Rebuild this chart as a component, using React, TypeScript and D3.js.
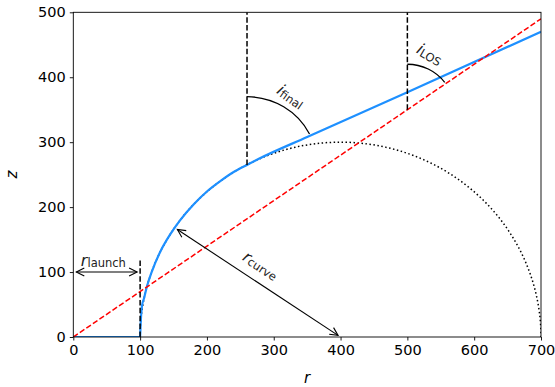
import React, { useEffect, useRef } from "react";
import * as d3 from "d3";

// axis ticks
const rTicks = [0, 100, 200, 300, 400, 500, 600, 700];
const zTicks = [0, 100, 200, 300, 400, 500];

// blue streamline: launch segment along the disc, then the curved flow
const launchSegment: [number, number][] = [[0, 0], [100, 0]];
const streamline: [number, number][] = [
  [100, 0], [101, 24], [103, 49], [106, 60], [110, 77], [118, 102], [130, 131],
  [145, 158], [160, 180], [180, 204], [200, 224], [220, 240], [240, 254],
  [260, 265], [277, 274], [350, 308], [500, 377], [700, 470],
];

// red line of sight
const losLine: [number, number][] = [[0, 0], [700, 490]];

// black dashed verticals
const launchMarker: [number, number][] = [[100, 0], [100, 120]];
const finalMarker: [number, number][] = [[260, 265], [260, 500]];
const losMarker: [number, number][] = [[500, 350], [500, 500]];

// dotted curvature circle
const curveCenter = [400, 0];
const curveRadius = 300;

// angle arcs: centre r, centre z, radius, start angle (deg from horizontal)
const finalArc = [260, 265, 105, 27];
const losArc = [500, 350, 70, 37];

// double-headed arrows
const launchArrow: [number, number][] = [[0, 100], [100, 100]];
const curveArrow: [number, number][] = [[400, 0], [152, 168]];

// labels: [r, z, rotation, main, subscript]
const labels: [number, number, number, string, string][] = [
  [45, 118, 0, "r", "launch"],
  [326, 371, 35, "i", "final"],
  [534, 436, 30, "i", "LOS"],
  [281, 111, 33, "r", "curve"],
];

const W = 555;
const H = 387;
const margin = { top: 12.3, right: 14, bottom: 50, left: 73.3 };
const FONT = "DejaVu Sans, sans-serif";

export default function App() {
  const ref = useRef<SVGSVGElement>(null);

  useEffect(() => {
    const svg = d3.select(ref.current);
    svg.selectAll("*").remove();

    const x = d3.scaleLinear().domain([0, 700]).range([margin.left, W - margin.right]);
    const y = d3.scaleLinear().domain([0, 500]).range([H - margin.bottom, margin.top]);

    svg.append("defs").append("clipPath").attr("id", "plot")
      .append("rect")
      .attr("x", x(0)).attr("y", y(500))
      .attr("width", x(700) - x(0)).attr("height", y(0) - y(500));

    const g = svg.append("g").attr("clip-path", "url(#plot)");
    const line = d3.line<[number, number]>().x(d => x(d[0])).y(d => y(d[1]));
    const smooth = d3.line<[number, number]>().x(d => x(d[0])).y(d => y(d[1]))
      .curve(d3.curveMonotoneX);

    // dotted circle
    g.append("ellipse")
      .attr("cx", x(curveCenter[0])).attr("cy", y(curveCenter[1]))
      .attr("rx", x(curveRadius) - x(0)).attr("ry", y(0) - y(curveRadius))
      .attr("fill", "none").attr("stroke", "black")
      .attr("stroke-width", 1.5).attr("stroke-dasharray", "1.5,2.5");

    // streamline
    g.append("path").attr("d", line(launchSegment))
      .attr("fill", "none").attr("stroke", "#1e90ff").attr("stroke-width", 2.2);
    g.append("path").attr("d", smooth(streamline))
      .attr("fill", "none").attr("stroke", "#1e90ff").attr("stroke-width", 2.2);

    // line of sight
    g.append("path").attr("d", line(losLine))
      .attr("fill", "none").attr("stroke", "red")
      .attr("stroke-width", 1.5).attr("stroke-dasharray", "5.5,2.4");

    // vertical markers
    [launchMarker, finalMarker, losMarker].forEach(m => {
      g.append("path").attr("d", line(m))
        .attr("fill", "none").attr("stroke", "black")
        .attr("stroke-width", 1.5).attr("stroke-dasharray", "5.5,2.4");
    });

    // angle arcs
    [finalArc, losArc].forEach(([cr, cz, R, a]) => {
      const t = (a * Math.PI) / 180;
      const rx = x(R) - x(0);
      const ry = y(0) - y(R);
      const x0 = x(cr + R * Math.cos(t));
      const y0 = y(cz + R * Math.sin(t));
      const x1 = x(cr);
      const y1 = y(cz + R);
      g.append("path")
        .attr("d", `M${x0},${y0} A${rx},${ry} 0 0 0 ${x1},${y1}`)
        .attr("fill", "none").attr("stroke", "black").attr("stroke-width", 1.3);
    });

    // arrows
    [launchArrow, curveArrow].forEach(([a, b]) => {
      let ax = x(a[0]), ay = y(a[1]), bx = x(b[0]), by = y(b[1]);
      const len = Math.hypot(bx - ax, by - ay);
      const ux = (bx - ax) / len, uy = (by - ay) / len;
      ax += ux * 3; ay += uy * 3; bx -= ux * 3; by -= uy * 3;
      svg.append("line")
        .attr("x1", ax).attr("y1", ay).attr("x2", bx).attr("y2", by)
        .attr("stroke", "black").attr("stroke-width", 1.1);
      const hl = 8, hw = 4;
      const head = (tx: number, ty: number, dx: number, dy: number) => {
        const px = -dy, py = dx;
        svg.append("path")
          .attr("d", `M${tx - dx * hl + px * hw},${ty - dy * hl + py * hw} L${tx},${ty} L${tx - dx * hl - px * hw},${ty - dy * hl - py * hw}`)
          .attr("fill", "none").attr("stroke", "black").attr("stroke-width", 1.1);
      };
      head(bx, by, ux, uy);
      head(ax, ay, -ux, -uy);
    });

    // labels
    labels.forEach(([r, z, rot, main, sub]) => {
      const t = svg.append("text")
        .attr("transform", `translate(${x(r)},${y(z)}) rotate(${rot})`)
        .attr("text-anchor", "middle")
        .attr("dominant-baseline", "central")
        .attr("font-family", FONT).attr("fill", "#222");
      t.append("tspan").attr("font-style", "italic").attr("font-size", 16).text(main);
      t.append("tspan").attr("font-size", 11.5).attr("dy", 3).text(sub);
    });

    // frame
    svg.append("rect")
      .attr("x", x(0)).attr("y", y(500))
      .attr("width", x(700) - x(0)).attr("height", y(0) - y(500))
      .attr("fill", "none").attr("stroke", "black").attr("stroke-width", 0.9);

    // axes
    const xAxis = svg.append("g")
      .attr("transform", `translate(0,${y(0)})`)
      .call(d3.axisBottom(x).tickValues(rTicks).tickSize(3.5).tickPadding(4));
    const yAxis = svg.append("g")
      .attr("transform", `translate(${x(0)},0)`)
      .call(d3.axisLeft(y).tickValues(zTicks).tickSize(3.5).tickPadding(4));
    [xAxis, yAxis].forEach(a => {
      a.select(".domain").remove();
      a.selectAll("line").attr("stroke-width", 0.9);
      a.selectAll("text").attr("font-family", FONT).attr("font-size", 14.5).attr("fill", "black");
    });

    svg.append("text")
      .attr("x", (x(0) + x(700)) / 2).attr("y", 383)
      .attr("text-anchor", "middle")
      .attr("font-family", FONT).attr("font-size", 15).attr("font-style", "italic")
      .text("r");
    svg.append("text")
      .attr("transform", `translate(17,${(y(0) + y(500)) / 2}) rotate(-90)`)
      .attr("text-anchor", "middle")
      .attr("font-family", FONT).attr("font-size", 15).attr("font-style", "italic")
      .text("z");
  }, []);

  return (
    <svg ref={ref} width={W} height={H}
      style={{ position: "absolute", left: 0, top: 0, background: "white" }} />
  );
}
